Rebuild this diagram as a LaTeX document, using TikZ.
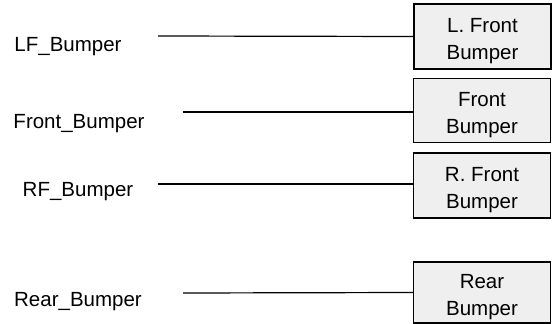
\documentclass[tikz,border=0pt]{standalone}
\usepackage{fontspec}
\setmainfont{Liberation Sans}
\usetikzlibrary{positioning}
\tikzstyle{sheet} = [x = 1pt, y = -1pt]
\definecolor{boxGray}{RGB}{239,239,239}
\tikzstyle{partBox} = [draw=black, fill=boxGray, line width=1.2pt, minimum width=137pt, inner sep=0pt]
\tikzstyle{partText} = [align=center, font=\fontsize{20.5}{27}\selectfont, inner sep=0pt, yshift=-5pt]
\tikzstyle{signalText} = [font=\fontsize{20.5}{26}\selectfont, inner sep=0pt]
\tikzstyle{wireLine} = [draw=black, line width=1.2pt]
\newcommand{\partNode}[5]{
  \node [partBox, minimum height=#4] (#1Box) at (#2,#3) {};
  \node [partText] (#1Text) at (#1Box.center) {#5};
}
\begin{document}
\begin{tikzpicture}[sheet]
  \useasboundingbox (0,0) rectangle (552,324);
  % signal names
  \node [signalText] (lfName) at (68,47) {LF\_Bumper};
  \node [signalText] (frontName) at (79,124) {Front\_Bumper};
  \node [signalText] (rfName) at (78,192) {RF\_Bumper};
  \node [signalText] (rearName) at (78,302) {Rear\_Bumper};
  % parts
  \partNode{lf}{482.5}{36.5}{65pt}{L. Front\\Bumper}
  \partNode{front}{482}{110.5}{64pt}{Front\\Bumper}
  \partNode{rf}{482}{185.5}{65pt}{R. Front\\Bumper}
  \partNode{rear}{482}{292.5}{61pt}{Rear\\Bumper}
  % wires
  \coordinate (lfStart) at (158,36);
  \coordinate (frontStart) at (183,112);
  \coordinate (rfStart) at (158,184);
  \coordinate (rearStart) at (183,293);
  \draw [wireLine] (lfStart) -- (lfBox.west);
  \draw [wireLine] (frontStart) -- (frontBox.west |- frontStart);
  \draw [wireLine] (rfStart) -- (rfBox.west |- rfStart);
  \draw [wireLine] (rearStart) -- (rearBox.west);
\end{tikzpicture}
\end{document}
